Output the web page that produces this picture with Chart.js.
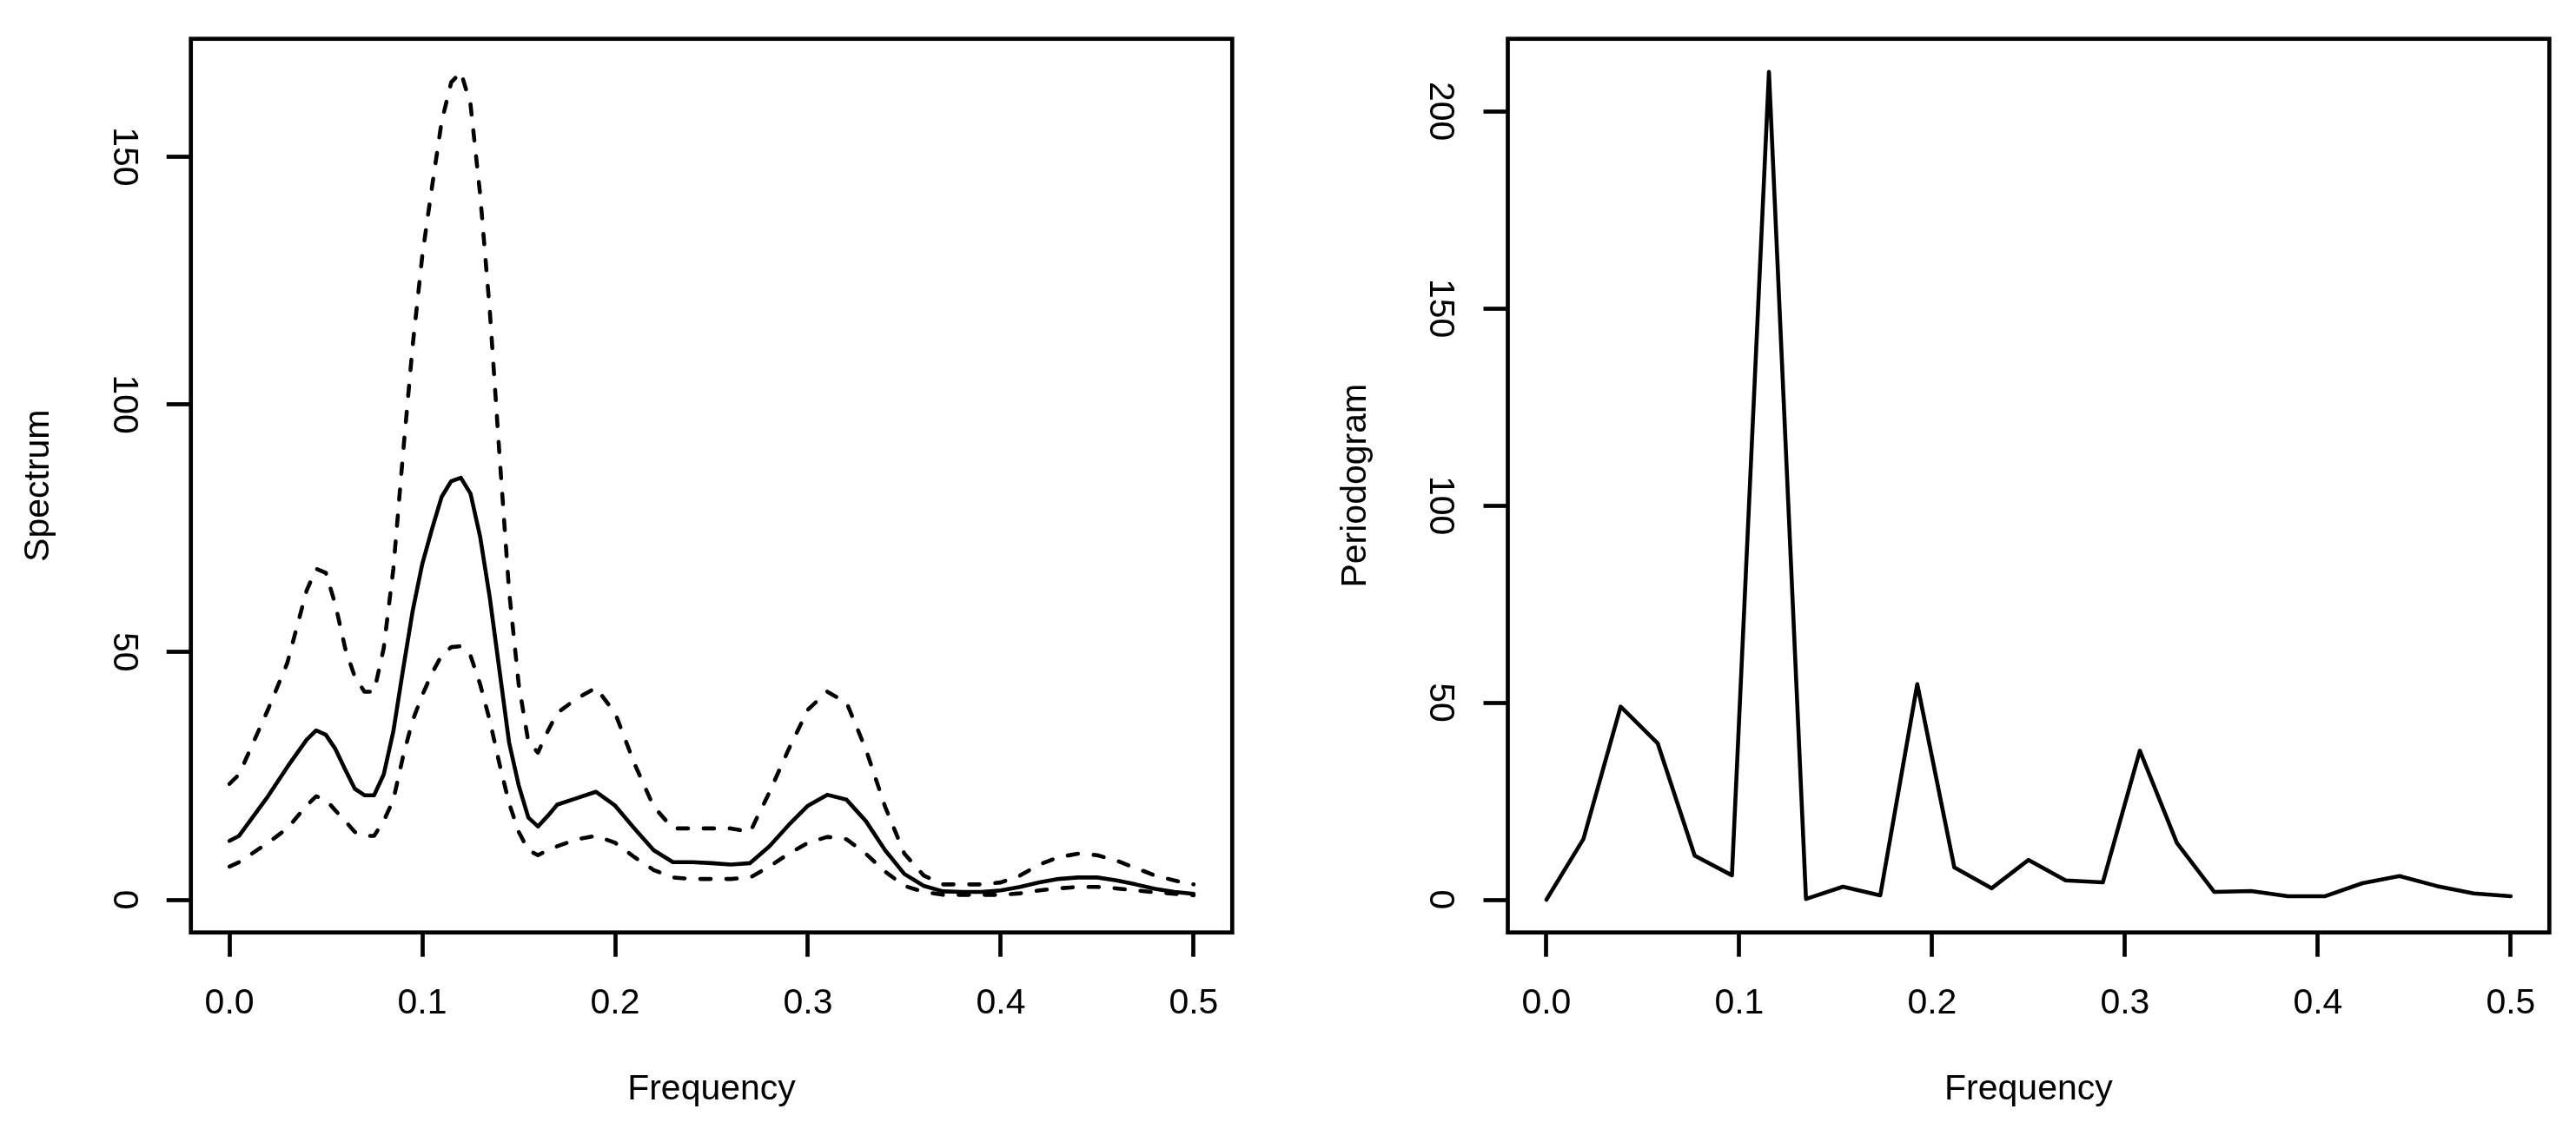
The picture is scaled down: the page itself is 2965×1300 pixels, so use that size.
<!DOCTYPE html>
<html><head><meta charset="utf-8">
<script src="https://cdn.jsdelivr.net/npm/chart.js@4.4.1/dist/chart.umd.min.js"></script>
<style>
html,body{margin:0;padding:0;background:#fff;}
#wrap{position:relative;width:2965px;height:1300px;background:#fff;}
.c{position:absolute;top:0;}
</style></head><body>
<div id="wrap">
<canvas id="c1" class="c" style="left:0px" width="1480" height="1300"></canvas>
<canvas id="c2" class="c" style="left:1480px" width="1485" height="1300"></canvas>
</div>
<script>
// ---------- data ----------
const freqFine = [0, 0.005, 0.02, 0.03, 0.04, 0.045, 0.05, 0.055, 0.06, 0.065, 0.07, 0.075, 0.08, 0.085, 0.09, 0.095, 0.1, 0.105, 0.11, 0.115, 0.12, 0.125, 0.13, 0.135, 0.14, 0.145, 0.15, 0.155, 0.16, 0.165, 0.17, 0.18, 0.19, 0.2, 0.21, 0.22, 0.23, 0.24, 0.25, 0.26, 0.27, 0.28, 0.29, 0.3, 0.31, 0.32, 0.33, 0.34, 0.35, 0.36, 0.37, 0.38, 0.39, 0.4, 0.41, 0.42, 0.43, 0.44, 0.45, 0.46, 0.47, 0.48, 0.49, 0.5];
const spectrum = [11.9, 12.9, 20.9, 26.8, 32.3, 34.2, 33.3, 30.4, 26.3, 22.4, 21.1, 21.1, 25.3, 34, 46.4, 58.3, 67.8, 74.8, 81.3, 84.5, 85.2, 82, 73.3, 61, 46.4, 31.8, 23.1, 16.6, 14.8, 16.9, 19.2, 20.5, 21.8, 19, 14.4, 10, 7.6, 7.6, 7.4, 7.1, 7.4, 10.8, 15.1, 19, 21.2, 20.2, 15.9, 10, 5.2, 2.8, 1.7, 1.6, 1.6, 1.9, 2.6, 3.5, 4.2, 4.5, 4.5, 3.9, 3.1, 2.2, 1.6, 1.2];
const upperCI = [23.4, 25.3, 38.4, 47.8, 62.4, 66.8, 66, 59.5, 50.8, 45, 42, 42, 50.8, 66.8, 90, 111.8, 130, 143.8, 157, 165, 167.1, 160.6, 142.4, 119, 90, 62.4, 43.5, 31.9, 29.7, 34, 37.7, 40.6, 42.8, 37.7, 27.5, 18.8, 14.4, 14.4, 14.4, 14.4, 13.7, 21.7, 30.4, 38.4, 42, 39.8, 30.4, 18.8, 9.3, 4.9, 3.1, 3.1, 3.1, 3.5, 4.9, 7.1, 8.6, 9.3, 9, 7.9, 6.4, 4.9, 3.9, 3.1];
const lowerCI = [6.7, 7.6, 11.5, 14.4, 19, 20.9, 20.2, 18, 15.9, 13.7, 12.9, 12.9, 15.9, 20.2, 28.9, 36.2, 41.3, 45.7, 49.3, 51, 51.2, 49.3, 43.5, 36.2, 27.5, 19.5, 13.7, 10, 9, 10, 10.8, 12.2, 12.9, 11.5, 8.6, 6, 4.5, 4.2, 4.2, 4.2, 4.5, 6.7, 9.3, 11.5, 12.7, 12.2, 9.3, 5.7, 2.8, 1.6, 1.0, 1.0, 1.0, 1.0, 1.3, 1.9, 2.3, 2.6, 2.6, 2.3, 1.9, 1.5, 1.2, 0.9];

const freqFourier = [0, 0.0192, 0.0385, 0.0577, 0.0769, 0.0962, 0.1154, 0.1346, 0.1538, 0.1731, 0.1923, 0.2115, 0.2308, 0.25, 0.2692, 0.2885, 0.3077, 0.3269, 0.3462, 0.3654, 0.3846, 0.4038, 0.4231, 0.4423, 0.4615, 0.4808, 0.5];
const periodogram = [0.0, 15.4, 49.0, 39.7, 11.2, 6.2, 210.0, 0.2, 3.3, 1.1, 54.7, 8.2, 2.9, 10.1, 4.9, 4.4, 37.8, 14.4, 2.0, 2.2, 0.9, 0.9, 4.2, 6.0, 3.5, 1.6, 0.9];

const xTicks = [0, 0.1, 0.2, 0.3, 0.4, 0.5];
const xTickLabels = ['0.0', '0.1', '0.2', '0.3', '0.4', '0.5'];
const yTicksLeft = [0, 50, 100, 150];
const yTicksRight = [0, 50, 100, 150, 200];
const xTitle = 'Frequency';
const yTitleLeft = 'Spectrum';
const yTitleRight = 'Periodogram';

// ---------- layout / style ----------
const FONT = '"Liberation Sans", Arial, Helvetica, sans-serif';
const FS = 41;
const LW = 4.6;
const TL = 28;
const BOX = {top: 44.7, bottom: 1073.7};
const H = 1300;

const mctx = document.createElement('canvas').getContext('2d');
mctx.font = FS + 'px ' + FONT;

function pts(xs, ys) { return xs.map((x, i) => ({x: x, y: ys[i]})); }

const boxPlugin = {
  id: 'box',
  afterDatasetsDraw(chart) {
    const a = chart.chartArea, c = chart.ctx;
    c.save();
    c.strokeStyle = '#000';
    c.lineWidth = 4.7;
    c.strokeRect(a.left, a.top, a.right - a.left, a.bottom - a.top);
    c.restore();
  }
};

function makePanel(id, canvasW, boxLeft, boxRight, yMin, yMax, yTicks, yTitle, datasets) {
  const yAxisW = 219.7;
  const widest = Math.max(...yTicks.map(v => mctx.measureText(String(v)).width));
  const yPad = 77.7 - TL - widest / 2;
  return new Chart(document.getElementById(id), {
    type: 'line',
    data: {datasets: datasets},
    options: {
      responsive: false, animation: false, devicePixelRatio: 1,
      layout: {padding: {left: boxLeft - yAxisW, top: BOX.top, right: canvasW - boxRight, bottom: 0}},
      plugins: {legend: {display: false}, tooltip: {enabled: false}},
      elements: {point: {radius: 0, hoverRadius: 0},
                 line: {tension: 0, borderWidth: LW, borderColor: '#000', borderJoinStyle: 'round', borderCapStyle: 'round', fill: false}},
      scales: {
        x: {
          type: 'linear', position: 'bottom', min: -0.02, max: 0.52,
          afterFit: s => { s.height = H - BOX.bottom; },
          afterBuildTicks: s => { s.ticks = xTicks.map(v => ({value: v})); },
          border: {display: false},
          grid: {drawOnChartArea: false, drawTicks: true, tickLength: TL, tickWidth: 4.7, tickColor: '#000'},
          ticks: {autoSkip: false, maxRotation: 0, minRotation: 0, padding: 29, color: '#000',
                  font: {family: FONT, size: FS}, callback: (v, i) => xTickLabels[i]},
          title: {display: true, text: xTitle, color: '#000', font: {family: FONT, size: FS}, padding: {top: 0, bottom: 21}}
        },
        y: {
          type: 'linear', position: 'left', min: yMin, max: yMax,
          afterFit: s => { s.width = yAxisW; },
          afterBuildTicks: s => { s.ticks = yTicks.map(v => ({value: v})); },
          border: {display: false},
          grid: {drawOnChartArea: false, drawTicks: true, tickLength: TL, tickWidth: 4.7, tickColor: '#000'},
          ticks: {autoSkip: false, minRotation: -90, maxRotation: -90, crossAlign: 'center', padding: yPad, color: '#000',
                  font: {family: FONT, size: FS}, callback: v => String(v)},
          title: {display: true, text: yTitle, color: '#000', font: {family: FONT, size: FS}, padding: {top: 20.1, bottom: 0}}
        }
      }
    },
    plugins: [boxPlugin]
  });
}

makePanel('c1', 1480, 219.7, 1418.3, -6.6, 173.8, yTicksLeft, yTitleLeft, [
  {data: pts(freqFine, upperCI), borderDash: [12, 18]},
  {data: pts(freqFine, lowerCI), borderDash: [12, 18]},
  {data: pts(freqFine, spectrum)}
]);
makePanel('c2', 1485, 1735.5 - 1480, 2934.3 - 1480, -8.3, 218.4, yTicksRight, yTitleRight, [
  {data: pts(freqFourier, periodogram)}
]);
</script>
</body></html>
